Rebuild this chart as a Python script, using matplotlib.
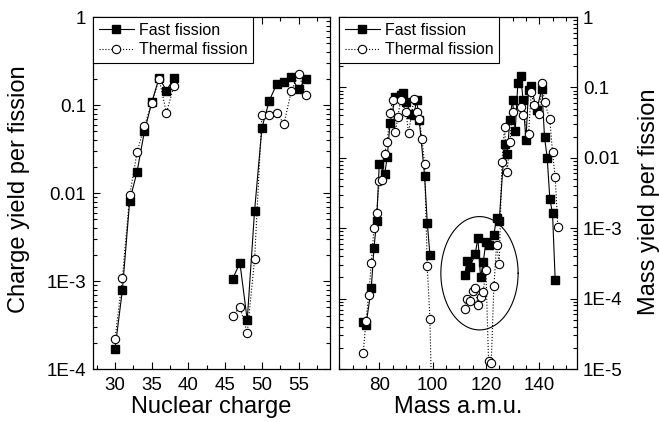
import numpy as np
import matplotlib
matplotlib.use('Agg')
from matplotlib import pyplot as plt
from matplotlib.ticker import FixedLocator, FixedFormatter, LogLocator, MultipleLocator, NullFormatter

plt.rcParams['font.family'] = ['Liberation Sans', 'DejaVu Sans']

# ---- charge yields (left panel) ----
z_light = [30, 31, 32, 33, 34, 35, 36, 37, 38]
z_heavy = [46, 47, 48, 49, 50, 51, 52, 53, 54, 55, 56]
cy_fast_light = [1.7e-4, 7.9e-4, 8.2e-3, 0.0175, 0.050, 0.107, 0.204, 0.146, 0.201]
cy_fast_heavy = [1.05e-3, 1.61e-3, 3.6e-4, 6.3e-3, 0.055, 0.112, 0.172, 0.183, 0.206, 0.151, 0.198]
cy_therm_light = [2.2e-4, 1.08e-3, 9.5e-3, 0.029, 0.058, 0.105, 0.197, 0.081, 0.164]
cy_therm_heavy = [4.0e-4, 5.1e-4, 2.57e-4, 1.76e-3, 0.076, 0.076, 0.081, 0.061, 0.144, 0.225, 0.129]

# ---- mass yields (right panel) ----
a_fast_1 = [74, 75, 77, 78, 79, 80, 82, 83, 84, 86, 88, 89, 90, 92, 93, 94, 95, 97, 98, 99]
my_fast_1 = [4.6e-5, 4.2e-5, 1.4e-4, 5.2e-4, 1.26e-3, 8.2e-3, 5.9e-3, 0.0102, 0.031, 0.072,
             0.078, 0.082, 0.062, 0.042, 0.040, 0.067, 0.034, 5.6e-3, 1.2e-3, 4.2e-4]
a_fast_2 = [112, 113, 114, 116, 117, 118, 119, 120, 121, 123, 124, 125,
            127, 128, 129, 130, 131, 132, 133, 134, 135, 136, 137, 139, 141, 142, 143, 144, 145, 146]
my_fast_2 = [2.16e-4, 3.4e-4, 2.8e-4, 4.3e-4, 7.3e-4, 2.0e-4, 3.27e-4, 6.4e-4, 5.8e-4, 8.1e-4, 1.4e-3, 1.26e-3,
             0.0159, 0.0114, 0.0349, 0.067, 0.024, 0.116, 0.144, 0.066, 0.0177, 0.091, 0.104, 0.047,
             0.096, 0.0197, 0.010, 2.6e-3, 1.63e-3, 1.86e-4]
a_therm_1 = [74, 75, 76, 77, 78, 79, 80, 81, 82, 83, 84, 85, 86, 87, 88, 90, 91, 93, 94, 95, 96, 97, 98, 99, 100]
my_therm_1 = [1.7e-5, 4.8e-5, 1.12e-4, 3.16e-4, 1.0e-3, 1.65e-3, 4.7e-3, 4.8e-3, 0.0115, 0.0167, 0.043,
              0.066, 0.023, 0.038, 0.067, 0.045, 0.0225, 0.069, 0.045, 0.036, 0.0187, 0.0082,
              2.9e-4, 5.2e-5, 1e-6]
a_therm_2 = [112, 113, 114, 115, 116, 117, 118, 119, 120, 121, 122, 123, 124, 125,
             126, 127, 128, 129, 130, 133, 134, 136, 137, 138, 140, 141, 142, 144, 145, 146, 147]
my_therm_2 = [7.2e-5, 1.0e-4, 9.1e-5, 1.29e-4, 1.41e-4, 8.1e-5, 1.07e-4, 1.26e-4, 2.57e-4, 1.3e-5, 1.2e-5,
              1.5e-4, 5.8e-4, 3.1e-4,
              8.7e-3, 0.0274, 6.3e-3, 0.0167, 0.045, 0.053, 0.040, 0.0216, 0.086, 0.056, 0.0415,
              0.116, 0.062, 0.035, 0.012, 5.3e-3, 1.03e-3]

# ellipse around the symmetric-fission region (centre A, centre log10 y, full width, full height in decades)
ell_a, ell_logy, ell_w, ell_h = 117.6, -3.64, 29.0, 1.61


def fast(ax, x, y, label=None):
    ax.plot(x, y, '-', color='black', lw=0.8, marker='s', ms=5.5,
            mfc='black', mec='black', label=label)


def thermal(ax, x, y, label=None):
    ax.plot(x, y, ':', color='black', lw=0.8, marker='o', ms=6,
            mfc='white', mec='black', mew=0.8, label=label)


def style(ax, yticks, ylabels):
    ax.set_yscale('log')
    ax.yaxis.set_major_locator(FixedLocator(yticks))
    ax.yaxis.set_major_formatter(FixedFormatter(ylabels))
    ax.yaxis.set_minor_locator(LogLocator(base=10, subs=np.arange(2, 10)))
    ax.yaxis.set_minor_formatter(NullFormatter())
    ax.tick_params(which='both', direction='in', top=True, right=True, labelsize=13.5)
    ax.tick_params(which='major', length=5, width=0.8)
    ax.tick_params(which='minor', length=3, width=0.8)
    for s in ax.spines.values():
        s.set_linewidth(0.9)


fig = plt.figure(figsize=(6.59, 4.22), dpi=100)
fig.set_facecolor('white')
W, H = 659.0, 422.0
ax1 = fig.add_axes([93 / W, (H - 369) / H, (329.5 - 93) / W, (369 - 17) / H])
ax2 = fig.add_axes([339.3 / W, (H - 369) / H, (576.5 - 339.3) / W, (369 - 17) / H])

# left: charge yields
fast(ax1, z_light, cy_fast_light, 'Fast fission')
fast(ax1, z_heavy, cy_fast_heavy)
thermal(ax1, z_light, cy_therm_light, 'Thermal fission')
thermal(ax1, z_heavy, cy_therm_heavy)
style(ax1, [1e-4, 1e-3, 1e-2, 0.1, 1], ['1E-4', '1E-3', '0.01', '0.1', '1'])
ax1.set_xlim(27, 59.2)
ax1.set_ylim(1e-4, 1)
ax1.xaxis.set_major_locator(MultipleLocator(5))
ax1.xaxis.set_minor_locator(MultipleLocator(2.5))
ax1.tick_params(axis='x', pad=6)
ax1.tick_params(axis='y', pad=5)
ax1.set_xlabel('Nuclear charge', fontsize=17)
ax1.xaxis.set_label_coords(0.5, -0.078)

# right: mass yields
fast(ax2, a_fast_1, my_fast_1, 'Fast fission')
fast(ax2, a_fast_2, my_fast_2)
thermal(ax2, a_therm_1, my_therm_1, 'Thermal fission')
thermal(ax2, a_therm_2, my_therm_2)
t = np.linspace(0, 2 * np.pi, 300)
ax2.plot(ell_a + ell_w / 2 * np.cos(t), 10 ** (ell_logy + ell_h / 2 * np.sin(t)), '-', color='black', lw=0.8)
style(ax2, [1e-5, 1e-4, 1e-3, 1e-2, 0.1, 1], ['1E-5', '1E-4', '1E-3', '0.01', '0.1', '1'])
ax2.set_xlim(65, 154)
ax2.set_ylim(1e-5, 1)
ax2.xaxis.set_major_locator(MultipleLocator(20))
ax2.xaxis.set_minor_locator(MultipleLocator(5))
ax2.tick_params(axis='y', labelleft=False, labelright=True, pad=4.5)
ax2.tick_params(axis='x', pad=6)
ax2.set_xlabel('Mass a.m.u.', fontsize=17)
ax2.xaxis.set_label_coords(0.5, -0.078)

# vertical axis titles
fig.text(19.5 / W, 1 - 189 / H, 'Charge yield per fission', rotation=90, fontsize=17,
         ha='center', va='center')
fig.text(648.5 / W, 1 - 202 / H, 'Mass yield per fission', rotation=90, fontsize=17,
         ha='center', va='center')

for ax in (ax1, ax2):
    leg = ax.legend(loc='upper left', borderaxespad=0, fontsize=11.5, frameon=True, fancybox=False,
                    edgecolor='black', framealpha=1, handlelength=2.2, handletextpad=0.3,
                    borderpad=0.35, labelspacing=0.3)
    leg.get_frame().set_linewidth(0.8)

fig.savefig('out.png', dpi=100, facecolor='white')
